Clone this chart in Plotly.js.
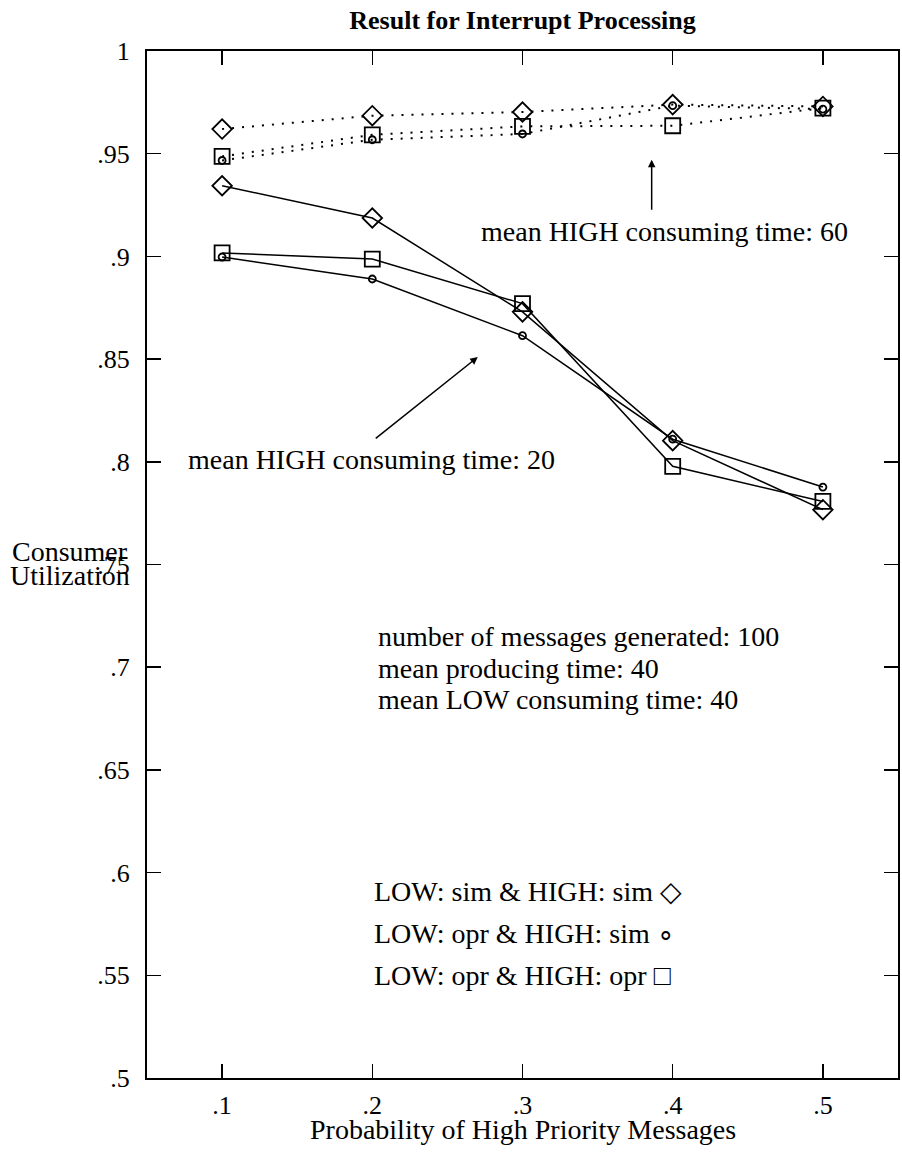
<!DOCTYPE html>
<html>
<head>
<meta charset="utf-8">
<script src="https://cdn.plot.ly/plotly-3.0.1.min.js"></script>
<style>html,body{margin:0;padding:0;background:#fff;}#chart{width:902px;height:1154px;}</style>
</head>
<body>
<div id="chart"></div>
<script>
// ---- data ----
const probHigh = [0.1, 0.2, 0.3, 0.4, 0.5];
const xTickVals = [0.1, 0.2, 0.3, 0.4, 0.5];
const xTickText = ['.1', '.2', '.3', '.4', '.5'];
const yTickVals = [0.5, 0.55, 0.6, 0.65, 0.7, 0.75, 0.8, 0.85, 0.9, 0.95, 1.0];
const yTickText = ['.5', '.55', '.6', '.65', '.7', '.75', '.8', '.85', '.9', '.95', '1'];

// mean HIGH consuming time: 60 (dotted)
const simSim60 = [0.962, 0.9685, 0.9703, 0.9739, 0.973];
const oprSim60 = [0.9467, 0.9568, 0.9596, 0.9734, 0.9717];
const oprOpr60 = [0.9487, 0.9592, 0.9633, 0.9636, 0.9722];
// mean HIGH consuming time: 20 (solid)
const simSim20 = [0.9344, 0.9187, 0.873, 0.8103, 0.7767];
const oprSim20 = [0.8997, 0.889, 0.8614, 0.811, 0.7877];
const oprOpr20 = [0.9017, 0.8987, 0.877, 0.7978, 0.7807];

const seriesNames = ['LOW: sim & HIGH: sim', 'LOW: opr & HIGH: sim', 'LOW: opr & HIGH: opr'];
const seriesSymbols = ['\u25C7', '\u2218', '\u25A1'];
const infoLines = ['number of messages generated: 100', 'mean producing time: 40', 'mean LOW consuming time: 40'];

const FONT = 'Liberation Serif, Times New Roman, serif';
const TXT = 28;
const TICK = 26;

function mk(y, sym, size, dotted) {
  return {
    x: probHigh, y: y, type: 'scatter', mode: 'lines+markers',
    line: {color: '#000', width: dotted ? 2 : 1.5, dash: dotted ? '2px,8px' : 'solid'},
    marker: {symbol: sym, size: size, color: '#000', line: {color: '#000', width: 1.8}},
    showlegend: false, hoverinfo: 'x+y'
  };
}

const traces = [
  mk(simSim60, 'diamond-open', 15, true),
  mk(oprOpr60, 'square-open', 15, true),
  mk(oprSim60, 'circle-open', 7, true),
  mk(simSim20, 'diamond-open', 15, false),
  mk(oprOpr20, 'square-open', 15, false),
  mk(oprSim20, 'circle-open', 7, false)
];

const annFont = {family: FONT, size: TXT, color: '#000'};
const annotations = [
  // arrow for HIGH 60
  {x: 0.386, y: 0.947, ax: 0.386, ay: 0.922, xref: 'x', yref: 'y', axref: 'x', ayref: 'y',
   text: '', showarrow: true, arrowhead: 2, arrowsize: 1, arrowwidth: 1.5, arrowcolor: '#000'},
  {x: 0.271, y: 0.912, xref: 'x', yref: 'y', xanchor: 'left', yanchor: 'middle',
   text: 'mean HIGH consuming time: 60', showarrow: false, font: annFont},
  // arrow for HIGH 20
  {x: 0.2702, y: 0.851, ax: 0.2013, ay: 0.8108, xref: 'x', yref: 'y', axref: 'x', ayref: 'y',
   text: '', showarrow: true, arrowhead: 2, arrowsize: 1, arrowwidth: 1.5, arrowcolor: '#000'},
  {x: 0.076, y: 0.801, xref: 'x', yref: 'y', xanchor: 'left', yanchor: 'middle',
   text: 'mean HIGH consuming time: 20', showarrow: false, font: annFont},
  // y axis title (two lines, horizontal)
  {x: -0.102, y: 0.513, xref: 'paper', yref: 'paper', xanchor: 'center', yanchor: 'middle',
   text: 'Consumer', showarrow: false, font: annFont},
  {x: -0.102, y: 0.489, xref: 'paper', yref: 'paper', xanchor: 'center', yanchor: 'middle',
   text: 'Utilization', showarrow: false, font: annFont},
  // x axis title
  {x: 0.5, y: -0.0506, xref: 'paper', yref: 'paper', xanchor: 'center', yanchor: 'middle',
   text: 'Probability of High Priority Messages', showarrow: false, font: annFont}
];
const infoY = [0.7149, 0.6993, 0.6842];
infoLines.forEach((t, i) => annotations.push({
  x: 0.2022, y: infoY[i], xref: 'x', yref: 'y', xanchor: 'left', yanchor: 'middle',
  text: t, showarrow: false, font: annFont
}));
const legY = [0.5907, 0.5702, 0.5498];
seriesNames.forEach((t, i) => annotations.push({
  x: 0.1995, y: legY[i], xref: 'x', yref: 'y', xanchor: 'left', yanchor: 'middle',
  text: t + ' ' + seriesSymbols[i], showarrow: false, font: annFont
}));

const layout = {
  width: 902, height: 1154,
  margin: {l: 147, r: 4, t: 51, b: 76},
  paper_bgcolor: '#fff', plot_bgcolor: '#fff',
  font: {family: FONT, size: TXT, color: '#000'},
  title: {text: '<b>Result for Interrupt Processing</b>', x: 0.5, xref: 'paper', y: 0.983, yref: 'container',
          yanchor: 'middle', font: {family: FONT, size: 26, color: '#000'}},
  xaxis: {
    range: [0.05, 0.55], tickvals: xTickVals, ticktext: xTickText,
    ticks: 'inside', ticklen: 14, tickwidth: 1.5, tickcolor: '#000',
    showline: true, linecolor: '#000', linewidth: 2, mirror: 'ticks',
    showgrid: false, zeroline: false, ticklabelstandoff: 3,
    tickfont: {family: FONT, size: TICK, color: '#000'}
  },
  yaxis: {
    range: [0.5, 1.0], tickvals: yTickVals, ticktext: yTickText,
    ticks: 'inside', ticklen: 14, tickwidth: 1.5, tickcolor: '#000',
    showline: true, linecolor: '#000', linewidth: 2, mirror: 'ticks',
    showgrid: false, zeroline: false, ticklabelstandoff: 10,
    tickfont: {family: FONT, size: TICK, color: '#000'}
  },
  annotations: annotations
};

Plotly.newPlot('chart', traces, layout, {staticPlot: true, displayModeBar: false});
</script>
</body>
</html>
